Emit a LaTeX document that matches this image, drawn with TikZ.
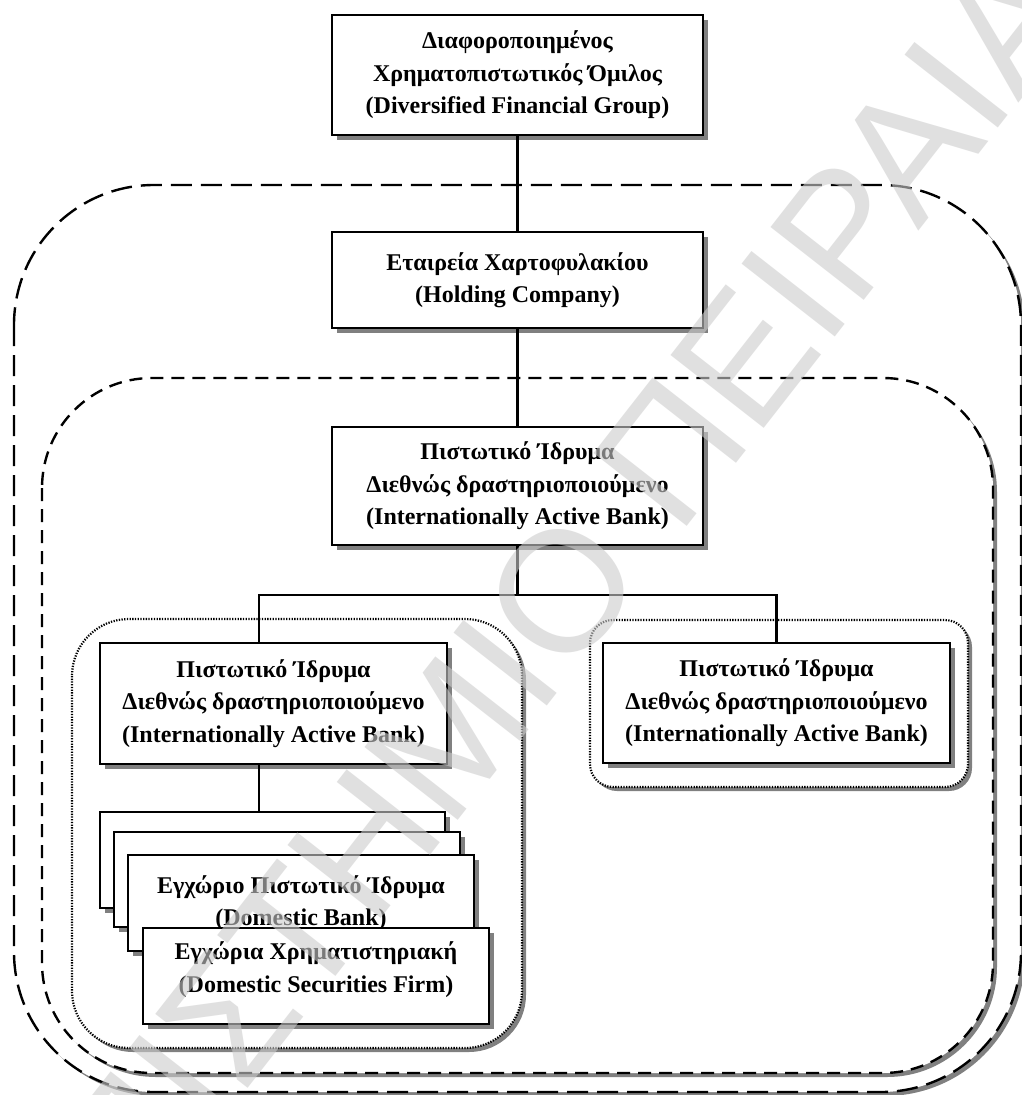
\documentclass[tikz,border=0pt]{standalone}
\usepackage{fontspec}
\setmainfont{Liberation Serif}
\newfontfamily\wmfont{Liberation Sans}
\usetikzlibrary{shadows,calc}
\definecolor{shd}{RGB}{128,128,128}
\newcommand\boxfont{\bfseries\fontsize{24}{32.5}\selectfont}
\begin{document}
\begin{tikzpicture}[x=1pt,y=-1pt,
  box/.style={draw, line width=2.6pt, fill=white, align=center, font=\boxfont, inner sep=0pt,
    drop shadow={shadow xshift=5pt, shadow yshift=-5pt, opacity=1, fill=shd}},
  conn/.style={line width=2.3pt},
  cshadow/.style={drop shadow={shadow xshift=4pt, shadow yshift=-4pt, opacity=1, fill=shd}},
  outerc/.style={line width=2.4pt, dash pattern=on 21pt off 9pt, fill=white, rounded corners=140pt, cshadow},
  midc/.style={line width=2.4pt, dash pattern=on 13pt off 8pt, fill=white, rounded corners=110pt, cshadow},
  dotc/.style={line width=2.2pt, dash pattern=on 1.3pt off 1.4pt, fill=white, cshadow},
  wm/.style={text=black!20, text opacity=0.6, font=\wmfont\fontsize{172}{172}\selectfont}
]
\useasboundingbox[fill=white] (0,0) rectangle (1022,1095);

% containers
\draw[outerc] (14,185) rectangle (1021,1092);
\draw[midc] (42,378) rectangle (993,1073);
\draw[dotc, rounded corners=57pt] (72,619) rectangle (522,1048);
\draw[dotc, rounded corners=23pt] (590,620) rectangle (968,787);

% boxes
\node[box, minimum width=371, minimum height=120] (dfg) at (517.5,75)
  {Διαφοροποιημένος\\Χρηματοπιστωτικός Όμιλος\\(Diversified Financial Group)};
\node[box, minimum width=371, minimum height=96] (hold) at (517.5,280)
  {Εταιρεία Χαρτοφυλακίου\\(Holding Company)};
\node[box, minimum width=371, minimum height=118] (iab) at (517.5,486)
  {Πιστωτικό Ίδρυμα\\Διεθνώς δραστηριοποιούμενο\\(Internationally Active Bank)};
\node[box, minimum width=347, minimum height=121] (iabL) at (273.5,703.5)
  {Πιστωτικό Ίδρυμα\\Διεθνώς δραστηριοποιούμενο\\(Internationally Active Bank)};
\node[box, minimum width=347, minimum height=120] (iabR) at (776.5,703)
  {Πιστωτικό Ίδρυμα\\Διεθνώς δραστηριοποιούμενο\\(Internationally Active Bank)};

\node[box, minimum width=345, minimum height=96] (s1) at (272.5,860) {};
\node[box, minimum width=346, minimum height=95] (s2) at (287,879.5) {};
\node[box, minimum width=346, minimum height=96] (s3) at (301,903)
  {Εγχώριο Πιστωτικό Ίδρυμα\\(Domestic Bank)};
\node[box, minimum width=346, minimum height=96, text depth=18pt] (s4) at (316,976)
  {Εγχώρια Χρηματιστηριακή\\(Domestic Securities Firm)};

% connectors
\coordinate (jn) at (517.5,595);
\draw[conn] (dfg.south) -- (hold.north);
\draw[conn] (hold.south) -- (iab.north);
\draw[conn] (iab.south) -- (jn);
\draw[conn] (jn) -| (iabR.north);
\draw[conn] (jn) -| ([xshift=-14.5pt]iabL.north);
\draw[conn] ([xshift=-14.5pt]iabL.south) -- ([xshift=-14.5pt]iabL.south |- s1.north);

% watermark
\node[wm, rotate=52, anchor=base east] (wmk) at (1091,10) {ΠΑΝΕΠΙΣΤΗΜΙΟ ΠΕΙΡΑΙΑ};
\end{tikzpicture}
\end{document}
